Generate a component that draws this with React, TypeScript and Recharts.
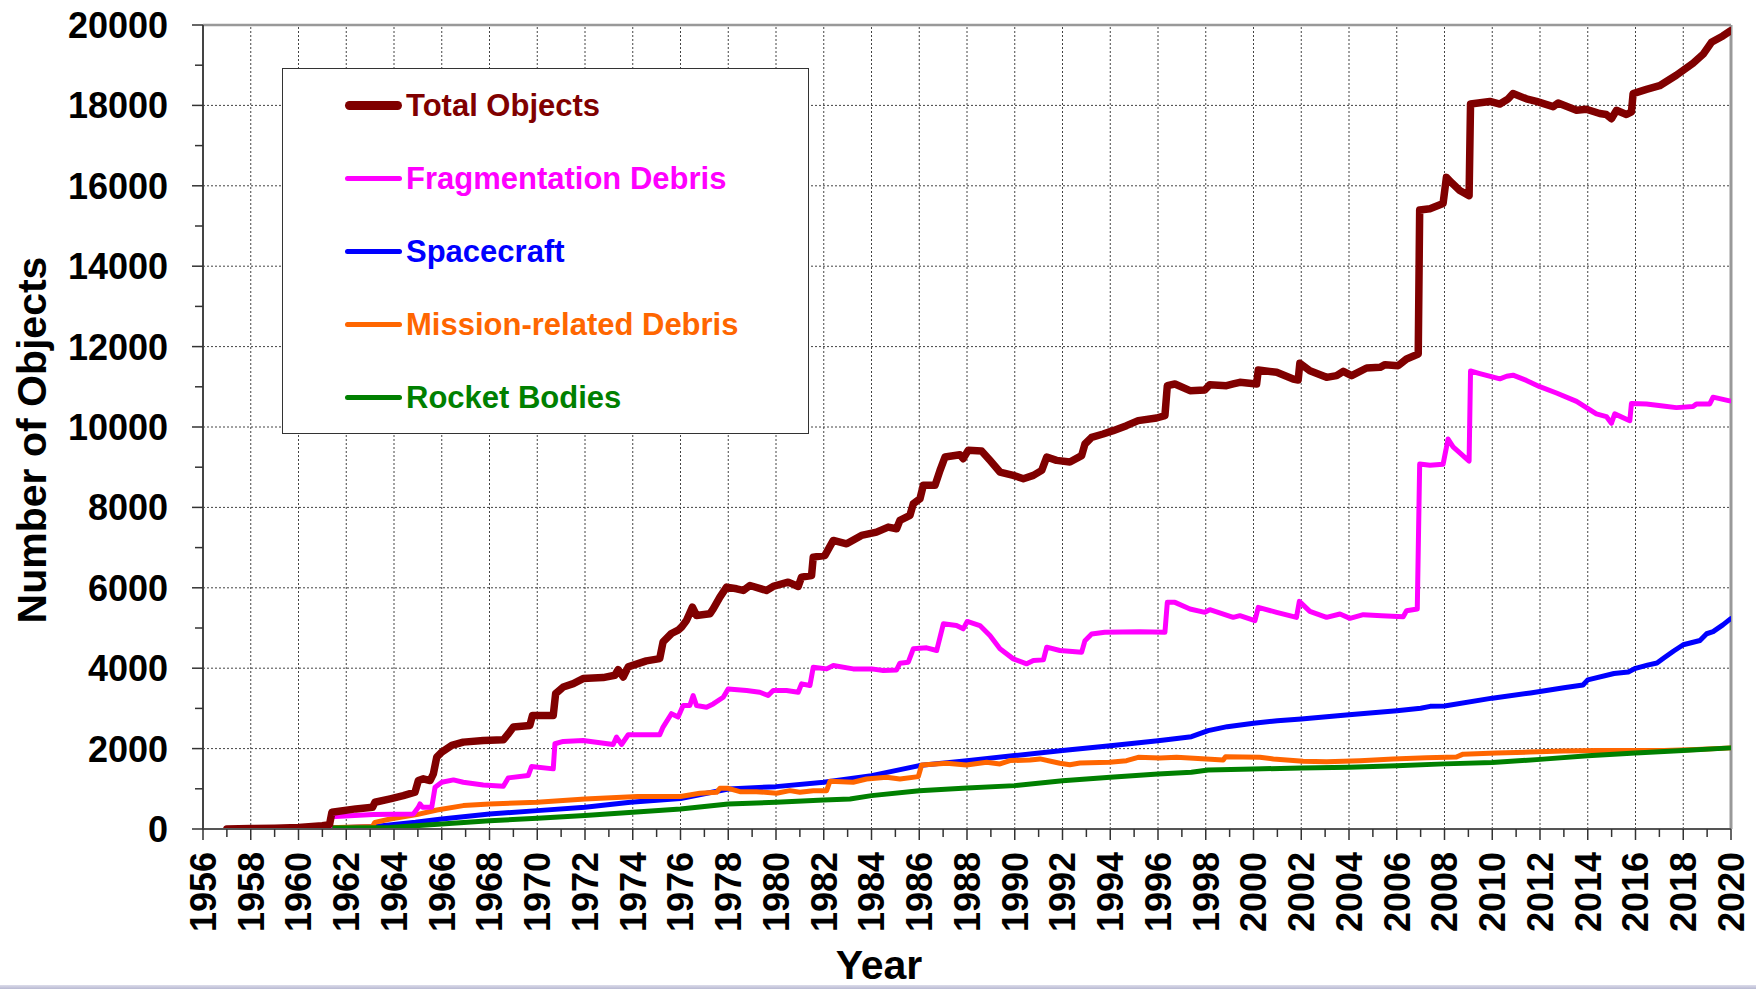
import { LineChart, Line, XAxis, YAxis, ReferenceLine, Legend } from "recharts";

type Pt = [number, number];

// [year, number of objects]
const totalObjects: Pt[] = [
  [1957.0, 0], [1958.0, 10], [1959.0, 20], [1960.0, 40], [1961.0, 80], [1961.3, 110], [1961.4, 415],
  [1962.4, 500], [1963.1, 540], [1963.2, 665], [1963.84, 750], [1964.39, 830], [1964.88, 915],
  [1965.02, 1205], [1965.23, 1247], [1965.51, 1205], [1965.65, 1372], [1965.79, 1787], [1966.0, 1912],
  [1966.42, 2078], [1966.9, 2161], [1967.74, 2203], [1968.58, 2219], [1968.79, 2369], [1969.0, 2535],
  [1969.69, 2577], [1969.8, 2826], [1970.67, 2826], [1970.77, 3367], [1971.09, 3533], [1971.51, 3616],
  [1971.92, 3741], [1972.76, 3766], [1973.25, 3824], [1973.39, 3965], [1973.6, 3782], [1973.81, 4032],
  [1974.57, 4181], [1975.13, 4239], [1975.27, 4655], [1975.62, 4863], [1975.9, 4946], [1976.04, 5021],
  [1976.25, 5187], [1976.5, 5519], [1976.67, 5311], [1977.23, 5353], [1977.37, 5477], [1977.65, 5768],
  [1977.93, 6017], [1978.35, 5975], [1978.63, 5934], [1978.91, 6058], [1979.6, 5934], [1979.88, 6033],
  [1980.51, 6141], [1980.93, 6033], [1981.07, 6266], [1981.49, 6307], [1981.56, 6763], [1982.05, 6805],
  [1982.4, 7178], [1982.96, 7095], [1983.58, 7303], [1984.21, 7386], [1984.7, 7510], [1985.05, 7469],
  [1985.19, 7676], [1985.61, 7801], [1985.75, 8091], [1986.03, 8216], [1986.17, 8548], [1986.66, 8548],
  [1986.87, 8921], [1987.08, 9253], [1987.7, 9311], [1987.84, 9212], [1988.05, 9419], [1988.61, 9402],
  [1988.96, 9170], [1989.38, 8880], [1989.94, 8797], [1990.36, 8714], [1990.78, 8797], [1991.13, 8921],
  [1991.34, 9253], [1991.75, 9170], [1992.31, 9129], [1992.8, 9287], [1992.94, 9577], [1993.22, 9743],
  [1993.7, 9826], [1994.12, 9909], [1994.68, 10033], [1995.17, 10158], [1995.94, 10224], [1996.29, 10282],
  [1996.39, 11028], [1996.71, 11070], [1997.34, 10904], [1997.96, 10921], [1998.17, 11053], [1998.87, 11028],
  [1999.15, 11070], [1999.43, 11111], [2000.13, 11070], [2000.2, 11418], [2000.97, 11360], [2001.66, 11194],
  [2001.87, 11169], [2001.94, 11584], [2002.36, 11401], [2003.06, 11235], [2003.48, 11277], [2003.76, 11385],
  [2004.11, 11277], [2004.74, 11468], [2005.3, 11484], [2005.51, 11551], [2006.06, 11526], [2006.41, 11692],
  [2006.9, 11816], [2006.96, 15400], [2007.39, 15430], [2007.94, 15560], [2008.08, 16210], [2008.29, 16080],
  [2008.64, 15885], [2009.03, 15755], [2009.09, 18034], [2009.9, 18099], [2010.32, 18034], [2010.67, 18164],
  [2010.87, 18294], [2011.43, 18164], [2011.85, 18099], [2012.55, 17969], [2012.76, 18060], [2013.53, 17878],
  [2013.94, 17904], [2014.5, 17799], [2014.78, 17773], [2014.99, 17669], [2015.2, 17878], [2015.62, 17773],
  [2015.83, 17838], [2015.9, 18294], [2016.46, 18398], [2017.01, 18490], [2017.71, 18750], [2018.41, 19049],
  [2018.83, 19271], [2019.18, 19570], [2019.66, 19727], [2019.99, 19857],
];

const fragmentationDebris: Pt[] = [
  [1957.0, 0], [1961.3, 0], [1961.35, 307], [1963.14, 358], [1964.81, 374], [1965.02, 540], [1965.09, 623],
  [1965.2, 540], [1965.58, 540], [1965.72, 1039], [1966.0, 1164], [1966.49, 1222], [1966.9, 1164],
  [1967.74, 1097], [1968.58, 1064], [1968.79, 1272], [1969.62, 1330], [1969.76, 1554], [1970.67, 1496],
  [1970.74, 2120], [1971.09, 2178], [1971.92, 2203], [1973.18, 2103], [1973.32, 2286], [1973.53, 2103],
  [1973.81, 2344], [1975.13, 2344], [1975.27, 2535], [1975.62, 2868], [1975.9, 2785], [1976.11, 3071],
  [1976.39, 3071], [1976.53, 3320], [1976.67, 3071], [1977.09, 3029], [1977.37, 3112], [1977.79, 3278],
  [1978.0, 3485], [1978.77, 3444], [1979.32, 3402], [1979.67, 3320], [1979.88, 3444], [1980.44, 3444],
  [1980.93, 3402], [1981.07, 3610], [1981.42, 3568], [1981.56, 4025], [1982.12, 3983], [1982.4, 4066],
  [1983.23, 3983], [1984.0, 3983], [1984.49, 3942], [1985.05, 3958], [1985.19, 4124], [1985.54, 4149],
  [1985.75, 4481], [1986.31, 4506], [1986.73, 4440], [1987.01, 5104], [1987.56, 5062], [1987.84, 4979],
  [1988.01, 5162], [1988.54, 5062], [1988.96, 4813], [1989.38, 4481], [1989.94, 4232], [1990.5, 4108],
  [1990.78, 4191], [1991.2, 4207], [1991.34, 4523], [1991.89, 4440], [1992.8, 4395], [1992.94, 4685],
  [1993.22, 4851], [1993.77, 4892], [1995.24, 4909], [1996.29, 4892], [1996.39, 5638], [1996.71, 5638],
  [1997.34, 5473], [1997.96, 5390], [1998.17, 5456], [1999.15, 5265], [1999.43, 5307], [2000.06, 5182],
  [2000.2, 5514], [2000.97, 5390], [2001.8, 5265], [2001.92, 5663], [2002.36, 5415], [2003.06, 5265],
  [2003.62, 5348], [2004.04, 5240], [2004.6, 5332], [2005.37, 5307], [2006.27, 5282], [2006.41, 5431],
  [2006.86, 5473], [2006.96, 9080], [2007.39, 9049], [2007.94, 9076], [2008.15, 9700], [2008.36, 9505],
  [2009.03, 9154], [2009.09, 11393], [2009.48, 11328], [2010.32, 11198], [2010.6, 11263], [2010.87, 11289],
  [2011.43, 11159], [2011.99, 11003], [2012.69, 10846], [2013.53, 10638], [2014.36, 10326], [2014.78, 10260],
  [2014.99, 10091], [2015.13, 10326], [2015.76, 10156], [2015.83, 10586], [2016.46, 10573], [2017.15, 10521],
  [2017.71, 10482], [2018.41, 10508], [2018.55, 10573], [2019.11, 10573], [2019.25, 10742], [2019.94, 10651],
];

const spacecraft: Pt[] = [
  [1957.0, 0], [1960.0, 20], [1962.0, 40], [1963.2, 60], [1964.9, 166], [1966.0, 250], [1968.0, 374],
  [1970.0, 457], [1972.0, 540], [1973.9, 665], [1976.0, 760], [1978.0, 996], [1980.0, 1054], [1982.0, 1162],
  [1984.0, 1328], [1986.0, 1577], [1988.0, 1701], [1990.0, 1826], [1992.0, 1950], [1994.0, 2073],
  [1996.0, 2197], [1997.4, 2297], [1998.1, 2446], [1998.9, 2546], [2000.0, 2629], [2001.0, 2695],
  [2002.0, 2736], [2004.0, 2844], [2006.0, 2944], [2007.0, 3002], [2007.4, 3051], [2008.0, 3060],
  [2010.0, 3255], [2011.6, 3385], [2013.0, 3516], [2013.8, 3581], [2014.0, 3711], [2015.1, 3867],
  [2015.7, 3906], [2016.0, 3997], [2016.5, 4076], [2016.9, 4128], [2017.2, 4258], [2017.6, 4427],
  [2018.0, 4583], [2018.7, 4688], [2018.98, 4857], [2019.25, 4909], [2019.66, 5078], [2019.99, 5234],
];

const missionRelatedDebris: Pt[] = [
  [1957.0, 0], [1961.3, 30], [1963.1, 60], [1963.2, 166], [1963.84, 250], [1964.95, 357], [1965.8, 474],
  [1966.9, 582], [1968.0, 623], [1970.0, 665], [1972.0, 748], [1974.2, 806], [1976.0, 810], [1976.81, 888],
  [1977.51, 913], [1977.65, 1012], [1978.0, 1012], [1978.49, 929], [1979.18, 929], [1980.02, 888],
  [1980.58, 954], [1981.0, 913], [1981.56, 954], [1982.12, 954], [1982.26, 1187], [1983.23, 1162],
  [1983.79, 1245], [1984.63, 1286], [1985.19, 1245], [1985.96, 1303], [1986.1, 1593], [1987.15, 1635],
  [1987.98, 1593], [1988.82, 1660], [1989.38, 1618], [1989.8, 1701], [1990.64, 1718], [1991.06, 1743],
  [1991.89, 1635], [1992.31, 1600], [1992.73, 1642], [1993.98, 1658], [1994.68, 1700], [1995.17, 1783],
  [1996.08, 1766], [1996.78, 1783], [1998.03, 1741], [1998.73, 1716], [1998.83, 1799], [2000.27, 1783],
  [2000.83, 1741], [2002.08, 1683], [2003.06, 1675], [2004.46, 1700], [2005.85, 1741], [2007.25, 1770],
  [2008.5, 1790], [2008.78, 1862], [2010.18, 1888], [2011.57, 1914], [2012.97, 1940], [2014.36, 1953],
  [2016.0, 1950], [2017.2, 1955], [2018.55, 1979], [2019.99, 2018],
];

const rocketBodies: Pt[] = [
  [1957.0, 0], [1960.0, 20], [1963.84, 40], [1966.0, 125], [1968.0, 208], [1970.0, 266], [1972.0, 333],
  [1974.0, 416], [1976.0, 500], [1978.0, 622], [1980.0, 664], [1982.0, 722], [1983.1, 747], [1984.0, 830],
  [1986.0, 954], [1988.0, 1021], [1990.0, 1079], [1992.0, 1200], [1994.0, 1285], [1996.0, 1368],
  [1997.4, 1410], [1998.1, 1468], [2000.0, 1493], [2002.0, 1517], [2004.0, 1534], [2006.0, 1575],
  [2008.0, 1620], [2010.0, 1654], [2012.0, 1732], [2014.0, 1823], [2016.0, 1888], [2018.0, 1953],
  [2019.99, 2018],
];

const yTicks = [
  0, 1000, 2000, 3000, 4000, 5000, 6000, 7000, 8000, 9000, 10000,
  11000, 12000, 13000, 14000, 15000, 16000, 17000, 18000, 19000, 20000,
];
const xTicks = Array.from({ length: 65 }, (_, i) => 1956 + i);
const gridYears = xTicks.filter((y) => y % 2 === 0 && y > 1956 && y < 2020);
const gridValues = yTicks.filter((v) => v % 2000 === 0 && v > 0 && v < 20000);

const FONT = "Arial, 'Liberation Sans', sans-serif";

const series = [
  { key: "total", name: "Total Objects", color: "#800000", width: 7.5, legendWidth: 9, points: totalObjects },
  { key: "frag", name: "Fragmentation Debris", color: "#FF00FF", width: 5, legendWidth: 5, points: fragmentationDebris },
  { key: "sc", name: "Spacecraft", color: "#0000FF", width: 5, legendWidth: 5, points: spacecraft },
  { key: "mrd", name: "Mission-related Debris", color: "#FF6600", width: 5, legendWidth: 5, points: missionRelatedDebris },
  { key: "rb", name: "Rocket Bodies", color: "#008000", width: 5, legendWidth: 5, points: rocketBodies },
];

// which line sits on top of which
const drawOrder = ["sc", "mrd", "rb", "frag", "total"];

const XTick = ({ x, y, payload }: any) => {
  const major = payload.value % 2 === 0;
  return (
    <g>
      <line x1={x} y1={y} x2={x} y2={y + (major ? 11 : 8)} stroke="#333" strokeWidth={1.5} />
      {major && (
        <text
          x={x}
          y={y + 23}
          transform={`rotate(-90 ${x} ${y + 23})`}
          textAnchor="end"
          dy="0.36em"
          fontFamily={FONT}
          fontWeight="bold"
          fontSize={36}
          fill="#000"
        >
          {payload.value}
        </text>
      )}
    </g>
  );
};

const YTick = ({ x, y, payload }: any) => {
  const major = payload.value % 2000 === 0;
  return (
    <g>
      <line x1={x} y1={y} x2={x - (major ? 11 : 8)} y2={y} stroke="#333" strokeWidth={1.5} />
      {major && (
        <text
          x={x - 35}
          y={y}
          textAnchor="end"
          dy="0.36em"
          fontFamily={FONT}
          fontWeight="bold"
          fontSize={36}
          fill="#000"
        >
          {payload.value}
        </text>
      )}
    </g>
  );
};

const renderLegend = () => (
  <div
    style={{
      width: "100%",
      height: "100%",
      boxSizing: "border-box",
      border: "1.5px solid #333",
      background: "#fff",
      position: "relative",
      fontFamily: FONT,
    }}
  >
    {series.map((s, i) => (
      <div
        key={s.key}
        style={{
          position: "absolute",
          left: 0,
          top: i * 73,
          height: 73,
          width: "100%",
          display: "flex",
          alignItems: "center",
        }}
      >
        <div
          style={{
            marginLeft: 62,
            width: 57,
            height: s.legendWidth,
            borderRadius: s.legendWidth / 2,
            background: s.color,
          }}
        />
        <span
          style={{
            marginLeft: 4,
            color: s.color,
            fontSize: 31,
            fontWeight: "bold",
            whiteSpace: "nowrap",
          }}
        >
          {s.name}
        </span>
      </div>
    ))}
  </div>
);

export default function App() {
  const ordered = drawOrder.map((k) => series.find((s) => s.key === k)!);
  return (
    <div style={{ position: "absolute", left: 0, top: 0, width: 1756, height: 989, background: "#fff" }}>
      <LineChart width={1756} height={989} margin={{ top: 25, right: 25, left: 0, bottom: 0 }}>
        <XAxis
          dataKey="year"
          type="number"
          domain={[1956, 2020]}
          allowDataOverflow
          ticks={xTicks}
          interval={0}
          height={160}
          tickSize={0}
          tickMargin={0}
          tickLine={false}
          tick={<XTick />}
          axisLine={{ stroke: "#555", strokeWidth: 2 }}
          label={{
            content: ({ viewBox }: any) => (
              <text
                x={viewBox.x + viewBox.width / 2 - 88}
                y={viewBox.y + 150}
                textAnchor="middle"
                fontFamily={FONT}
                fontWeight="bold"
                fontSize={41}
                fill="#000"
              >
                Year
              </text>
            ),
          }}
        />
        <YAxis
          type="number"
          domain={[0, 20000]}
          allowDataOverflow
          ticks={yTicks}
          interval={0}
          width={203}
          tickSize={0}
          tickMargin={0}
          tickLine={false}
          tick={<YTick />}
          axisLine={{ stroke: "#444", strokeWidth: 2 }}
          label={{
            content: ({ viewBox }: any) => {
              const cx = viewBox.x + 31;
              const cy = viewBox.y + viewBox.height / 2 + 13;
              return (
                <text
                  x={cx}
                  y={cy}
                  transform={`rotate(-90 ${cx} ${cy})`}
                  textAnchor="middle"
                  dy="0.36em"
                  fontFamily={FONT}
                  fontWeight="bold"
                  fontSize={41}
                  fill="#000"
                >
                  Number of Objects
                </text>
              );
            },
          }}
        />
        {gridYears.map((yr) => (
          <ReferenceLine key={`gx${yr}`} x={yr} stroke="#444" strokeWidth={1} strokeDasharray="2 2" />
        ))}
        {gridValues.map((v) => (
          <ReferenceLine key={`gy${v}`} y={v} stroke="#444" strokeWidth={1} strokeDasharray="2 2" />
        ))}
        <ReferenceLine y={20000} stroke="#999" strokeWidth={2.5} />
        <ReferenceLine x={2020} stroke="#999" strokeWidth={3} />
        {ordered.map((s) => (
          <Line
            key={s.key}
            name={s.name}
            data={s.points.map(([year, count]) => ({ year, count }))}
            dataKey="count"
            type="linear"
            stroke={s.color}
            strokeWidth={s.width}
            strokeLinejoin="round"
            strokeLinecap="round"
            dot={false}
            activeDot={false}
            isAnimationActive={false}
          />
        ))}
        <Legend
          layout="horizontal"
          verticalAlign="middle"
          align="center"
          wrapperStyle={{ left: 282, top: 68, width: 527, height: 366 }}
          content={renderLegend}
        />
      </LineChart>
      <div
        style={{
          position: "absolute",
          left: 0,
          top: 985,
          width: 1756,
          height: 4,
          background: "linear-gradient(#dcdcea, #b8b9d2)",
        }}
      />
    </div>
  );
}
